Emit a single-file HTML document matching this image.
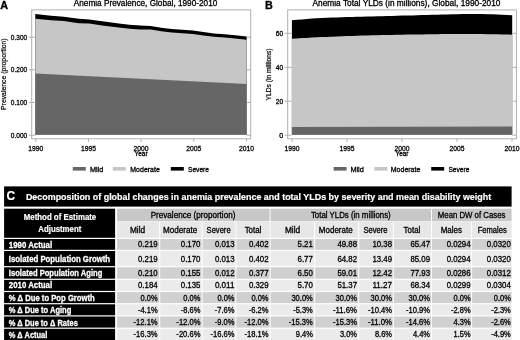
<!DOCTYPE html>
<html lang="en"><head><meta charset="utf-8"><title>Anemia figure</title>
<style>
html,body{margin:0;padding:0;background:#fff;}
body{width:520px;height:340px;overflow:hidden;}
svg{display:block;font-family:"Liberation Sans", Arial, sans-serif;}
text{white-space:pre;}
</style></head><body>
<svg width="520" height="340" viewBox="0 0 520 340">
<rect x="0" y="0" width="520" height="340" fill="#ffffff"/>
<rect x="31.7" y="9.9" width="219.0" height="128.9" fill="#fff" stroke="#b0b0b0" stroke-width="1"/>
<path d="M35.3,13.9 L51.2,15.8 L63.8,16.7 L78.7,18.8 L89.2,19.6 L104.0,21.6 L118.9,23.5 L129.4,24.7 L140.0,25.6 L150.6,26.0 L161.2,27.7 L171.7,29.0 L192.9,30.6 L203.5,31.9 L214.0,33.6 L224.6,34.2 L235.2,35.3 L246.7,36.4 L246.7,134.7 L35.3,134.7 Z" fill="#000"/>
<path d="M35.3,18.8 L51.2,20.2 L63.8,21.1 L78.7,23.2 L89.2,23.6 L104.0,25.8 L118.9,27.4 L129.4,28.8 L140.0,29.6 L150.6,29.6 L161.2,31.2 L171.7,32.4 L192.9,33.9 L203.5,35.4 L214.0,36.8 L224.6,37.5 L235.2,38.5 L246.7,39.8 L246.7,134.7 L35.3,134.7 Z" fill="#c6c6c6"/>
<path d="M35.3,73.5 L246.7,84.1 L246.7,134.7 L35.3,134.7 Z" fill="#666666"/>
<line x1="28.7" y1="135.2" x2="35.5" y2="135.2" stroke="#b0b0b0" stroke-width="1"/>
<line x1="246.7" y1="135.2" x2="250.7" y2="135.2" stroke="#b0b0b0" stroke-width="1"/>
<text x="27.2" y="137.79999999999998" font-size="7.2" text-anchor="end" fill="#000" textLength="16.4" lengthAdjust="spacingAndGlyphs" stroke="#000" stroke-width="0.3">0.000</text>
<line x1="28.7" y1="102.5" x2="35.5" y2="102.5" stroke="#b0b0b0" stroke-width="1"/>
<line x1="246.7" y1="102.5" x2="250.7" y2="102.5" stroke="#b0b0b0" stroke-width="1"/>
<text x="27.2" y="105.1" font-size="7.2" text-anchor="end" fill="#000" textLength="16.4" lengthAdjust="spacingAndGlyphs" stroke="#000" stroke-width="0.3">0.100</text>
<line x1="28.7" y1="69.8" x2="35.5" y2="69.8" stroke="#b0b0b0" stroke-width="1"/>
<line x1="246.7" y1="69.8" x2="250.7" y2="69.8" stroke="#b0b0b0" stroke-width="1"/>
<text x="27.2" y="72.39999999999999" font-size="7.2" text-anchor="end" fill="#000" textLength="16.4" lengthAdjust="spacingAndGlyphs" stroke="#000" stroke-width="0.3">0.200</text>
<line x1="28.7" y1="37.2" x2="35.5" y2="37.2" stroke="#b0b0b0" stroke-width="1"/>
<line x1="246.7" y1="37.2" x2="250.7" y2="37.2" stroke="#b0b0b0" stroke-width="1"/>
<text x="27.2" y="39.800000000000004" font-size="7.2" text-anchor="end" fill="#000" textLength="16.4" lengthAdjust="spacingAndGlyphs" stroke="#000" stroke-width="0.3">0.300</text>
<line x1="35.8" y1="138.8" x2="35.8" y2="141.8" stroke="#b0b0b0" stroke-width="1"/>
<text x="35.8" y="150.5" font-size="7.4" text-anchor="middle" fill="#000" textLength="15" lengthAdjust="spacingAndGlyphs" stroke="#000" stroke-width="0.3">1990</text>
<line x1="88.5" y1="138.8" x2="88.5" y2="141.8" stroke="#b0b0b0" stroke-width="1"/>
<text x="88.5" y="150.5" font-size="7.4" text-anchor="middle" fill="#000" textLength="15" lengthAdjust="spacingAndGlyphs" stroke="#000" stroke-width="0.3">1995</text>
<line x1="141.1" y1="138.8" x2="141.1" y2="141.8" stroke="#b0b0b0" stroke-width="1"/>
<text x="141.1" y="150.5" font-size="7.4" text-anchor="middle" fill="#000" textLength="15" lengthAdjust="spacingAndGlyphs" stroke="#000" stroke-width="0.3">2000</text>
<line x1="193.8" y1="138.8" x2="193.8" y2="141.8" stroke="#b0b0b0" stroke-width="1"/>
<text x="193.8" y="150.5" font-size="7.4" text-anchor="middle" fill="#000" textLength="15" lengthAdjust="spacingAndGlyphs" stroke="#000" stroke-width="0.3">2005</text>
<line x1="246.5" y1="138.8" x2="246.5" y2="141.8" stroke="#b0b0b0" stroke-width="1"/>
<text x="246.5" y="150.5" font-size="7.4" text-anchor="middle" fill="#000" textLength="15" lengthAdjust="spacingAndGlyphs" stroke="#000" stroke-width="0.3">2010</text>
<text x="141.1" y="156.2" font-size="7" text-anchor="middle" fill="#000" textLength="13" lengthAdjust="spacingAndGlyphs" stroke="#000" stroke-width="0.3">Year</text>
<text transform="translate(5.7,74.2) rotate(-90)" font-size="7" text-anchor="middle" fill="#000" stroke="#000" stroke-width="0.2" textLength="71.5" lengthAdjust="spacingAndGlyphs">Prevalence (proportion)</text>
<text x="73.8" y="6.3" font-size="8.2" fill="#000" textLength="143.5" lengthAdjust="spacingAndGlyphs" stroke="#000" stroke-width="0.3">Anemia Prevalence, Global, 1990-2010</text>
<text x="0.2" y="8.9" font-size="10.8" font-weight="bold" fill="#000" stroke="#000" stroke-width="0.3">A</text>
<rect x="72.80" y="167.00" width="13.00" height="3.60" fill="#666666"/>
<text x="89.9" y="171.5" font-size="7.3" fill="#000" textLength="13.4" lengthAdjust="spacingAndGlyphs" stroke="#000" stroke-width="0.3">Mild</text>
<rect x="112.80" y="167.00" width="13.00" height="3.60" fill="#c6c6c6"/>
<text x="130.3" y="171.5" font-size="7.3" fill="#000" textLength="29.5" lengthAdjust="spacingAndGlyphs" stroke="#000" stroke-width="0.3">Moderate</text>
<rect x="170.80" y="167.00" width="13.00" height="3.60" fill="#000"/>
<text x="188" y="171.5" font-size="7.3" fill="#000" textLength="21" lengthAdjust="spacingAndGlyphs" stroke="#000" stroke-width="0.3">Severe</text>
<rect x="287.7" y="9.9" width="228.7" height="128.9" fill="#fff" stroke="#b0b0b0" stroke-width="1"/>
<path d="M291.9,20.3 L296.9,19.8 L301.9,19.4 L306.9,19.0 L311.9,18.6 L316.9,18.3 L321.9,18.1 L326.9,17.8 L332.0,17.6 L337.0,17.4 L342.0,17.3 L347.0,17.1 L352.0,17.0 L357.0,16.8 L362.0,16.7 L367.0,16.5 L372.0,16.4 L377.0,16.3 L382.0,16.2 L387.0,16.0 L392.0,15.9 L397.0,15.8 L402.1,15.6 L407.1,15.5 L412.1,15.4 L417.1,15.2 L422.1,15.1 L427.1,14.9 L432.1,14.8 L437.1,14.7 L442.1,14.5 L447.1,14.4 L452.1,14.3 L457.1,14.2 L462.1,14.1 L467.1,14.1 L472.1,14.1 L477.2,14.1 L482.2,14.1 L487.2,14.2 L492.2,14.3 L497.2,14.5 L502.2,14.7 L507.2,15.0 L512.2,15.3 L512.2,134.7 L291.9,134.7 Z" fill="#000"/>
<path d="M291.9,38.8 L296.9,38.5 L301.9,38.1 L306.9,37.9 L311.9,37.6 L316.9,37.3 L321.9,37.1 L326.9,36.9 L332.0,36.7 L337.0,36.5 L342.0,36.3 L347.0,36.1 L352.0,35.9 L357.0,35.8 L362.0,35.6 L367.0,35.5 L372.0,35.3 L377.0,35.2 L382.0,35.1 L387.0,35.0 L392.0,34.9 L397.0,34.8 L402.1,34.7 L407.1,34.6 L412.1,34.5 L417.1,34.4 L422.1,34.4 L427.1,34.3 L432.1,34.2 L437.1,34.2 L442.1,34.1 L447.1,34.1 L452.1,34.1 L457.1,34.1 L462.1,34.1 L467.1,34.1 L472.1,34.1 L477.2,34.1 L482.2,34.1 L487.2,34.2 L492.2,34.2 L497.2,34.3 L502.2,34.4 L507.2,34.5 L512.2,34.7 L512.2,134.7 L291.9,134.7 Z" fill="#c6c6c6"/>
<path d="M291.9,126.9 L512.2,126.6 L512.2,134.7 L291.9,134.7 Z" fill="#666666"/>
<line x1="284.7" y1="135.2" x2="291.5" y2="135.2" stroke="#b0b0b0" stroke-width="1"/>
<line x1="512.4" y1="135.2" x2="516.4" y2="135.2" stroke="#b0b0b0" stroke-width="1"/>
<text x="283.2" y="137.79999999999998" font-size="7.2" text-anchor="end" fill="#000" stroke="#000" stroke-width="0.3">0</text>
<line x1="284.7" y1="101.2" x2="291.5" y2="101.2" stroke="#b0b0b0" stroke-width="1"/>
<line x1="512.4" y1="101.2" x2="516.4" y2="101.2" stroke="#b0b0b0" stroke-width="1"/>
<text x="283.2" y="103.8" font-size="7.2" text-anchor="end" fill="#000" textLength="7.4" lengthAdjust="spacingAndGlyphs" stroke="#000" stroke-width="0.3">20</text>
<line x1="284.7" y1="67.3" x2="291.5" y2="67.3" stroke="#b0b0b0" stroke-width="1"/>
<line x1="512.4" y1="67.3" x2="516.4" y2="67.3" stroke="#b0b0b0" stroke-width="1"/>
<text x="283.2" y="69.89999999999999" font-size="7.2" text-anchor="end" fill="#000" textLength="7.4" lengthAdjust="spacingAndGlyphs" stroke="#000" stroke-width="0.3">40</text>
<line x1="284.7" y1="33.3" x2="291.5" y2="33.3" stroke="#b0b0b0" stroke-width="1"/>
<line x1="512.4" y1="33.3" x2="516.4" y2="33.3" stroke="#b0b0b0" stroke-width="1"/>
<text x="283.2" y="35.9" font-size="7.2" text-anchor="end" fill="#000" textLength="7.4" lengthAdjust="spacingAndGlyphs" stroke="#000" stroke-width="0.3">60</text>
<line x1="292" y1="138.8" x2="292" y2="141.8" stroke="#b0b0b0" stroke-width="1"/>
<text x="292" y="150.5" font-size="7.4" text-anchor="middle" fill="#000" textLength="15" lengthAdjust="spacingAndGlyphs" stroke="#000" stroke-width="0.3">1990</text>
<line x1="347" y1="138.8" x2="347" y2="141.8" stroke="#b0b0b0" stroke-width="1"/>
<text x="347" y="150.5" font-size="7.4" text-anchor="middle" fill="#000" textLength="15" lengthAdjust="spacingAndGlyphs" stroke="#000" stroke-width="0.3">1995</text>
<line x1="402" y1="138.8" x2="402" y2="141.8" stroke="#b0b0b0" stroke-width="1"/>
<text x="402" y="150.5" font-size="7.4" text-anchor="middle" fill="#000" textLength="15" lengthAdjust="spacingAndGlyphs" stroke="#000" stroke-width="0.3">2000</text>
<line x1="457" y1="138.8" x2="457" y2="141.8" stroke="#b0b0b0" stroke-width="1"/>
<text x="457" y="150.5" font-size="7.4" text-anchor="middle" fill="#000" textLength="15" lengthAdjust="spacingAndGlyphs" stroke="#000" stroke-width="0.3">2005</text>
<line x1="512" y1="138.8" x2="512" y2="141.8" stroke="#b0b0b0" stroke-width="1"/>
<text x="512" y="150.5" font-size="7.4" text-anchor="middle" fill="#000" textLength="15" lengthAdjust="spacingAndGlyphs" stroke="#000" stroke-width="0.3">2010</text>
<text x="402" y="156.2" font-size="7" text-anchor="middle" fill="#000" textLength="13" lengthAdjust="spacingAndGlyphs" stroke="#000" stroke-width="0.3">Year</text>
<text transform="translate(270.9,74.45) rotate(-90)" font-size="7" text-anchor="middle" fill="#000" stroke="#000" stroke-width="0.2" textLength="52.1" lengthAdjust="spacingAndGlyphs">YLDs (in millions)</text>
<text x="312.5" y="6.3" font-size="8.2" fill="#000" textLength="188" lengthAdjust="spacingAndGlyphs" stroke="#000" stroke-width="0.3">Anemia Total YLDs (in millions), Global, 1990-2010</text>
<text x="265.0" y="8.9" font-size="10.8" font-weight="bold" fill="#000" stroke="#000" stroke-width="0.3">B</text>
<rect x="333.60" y="167.00" width="13.00" height="3.60" fill="#666666"/>
<text x="350.4" y="171.5" font-size="7.3" fill="#000" textLength="13.4" lengthAdjust="spacingAndGlyphs" stroke="#000" stroke-width="0.3">Mild</text>
<rect x="374.40" y="167.00" width="13.00" height="3.60" fill="#c6c6c6"/>
<text x="390.8" y="171.5" font-size="7.3" fill="#000" textLength="29.5" lengthAdjust="spacingAndGlyphs" stroke="#000" stroke-width="0.3">Moderate</text>
<rect x="431.20" y="167.00" width="13.00" height="3.60" fill="#000"/>
<text x="448.4" y="171.5" font-size="7.3" fill="#000" textLength="21" lengthAdjust="spacingAndGlyphs" stroke="#000" stroke-width="0.3">Severe</text>
<rect x="4.10" y="186.40" width="507.50" height="20.20" fill="#000"/>
<text x="6.6" y="200.2" font-size="12" font-weight="bold" fill="#fff" stroke="#fff" stroke-width="0.2">C</text>
<text x="25.9" y="200.3" font-size="9.5" font-weight="bold" fill="#fff" textLength="465.3" lengthAdjust="spacingAndGlyphs" stroke="#fff" stroke-width="0.2">Decomposition of global changes in anemia prevalence and total YLDs by severity and mean disability weight</text>
<rect x="4.10" y="208.70" width="111.00" height="29.10" fill="#000"/>
<text x="60" y="220.3" font-size="8.6" text-anchor="middle" font-weight="bold" fill="#fff" textLength="72.5" lengthAdjust="spacingAndGlyphs" stroke="#fff" stroke-width="0.2">Method of Estimate</text>
<text x="59.8" y="232.1" font-size="8.6" text-anchor="middle" font-weight="bold" fill="#fff" textLength="43" lengthAdjust="spacingAndGlyphs" stroke="#fff" stroke-width="0.2">Adjustment</text>
<rect x="117.10" y="208.70" width="152.50" height="12.50" fill="#c8c8c8"/>
<text x="193.05" y="218.1" font-size="8.3" text-anchor="middle" fill="#000" textLength="84.7" lengthAdjust="spacingAndGlyphs" stroke="#000" stroke-width="0.3">Prevalence (proportion)</text>
<rect x="270.60" y="208.70" width="160.40" height="12.50" fill="#c8c8c8"/>
<text x="350.8" y="218.1" font-size="8.3" text-anchor="middle" fill="#000" textLength="79.8" lengthAdjust="spacingAndGlyphs" stroke="#000" stroke-width="0.3">Total YLDs (in millions)</text>
<rect x="432.00" y="208.70" width="79.60" height="12.50" fill="#c8c8c8"/>
<text x="471.6" y="218.1" font-size="8.3" text-anchor="middle" fill="#000" textLength="67.6" lengthAdjust="spacingAndGlyphs" stroke="#000" stroke-width="0.3">Mean DW of Cases</text>
<rect x="117.10" y="221.50" width="42.10" height="16.30" fill="#e7e7e7"/>
<text x="137.55" y="232.8" font-size="8.3" text-anchor="middle" fill="#000" textLength="15.3" lengthAdjust="spacingAndGlyphs" stroke="#000" stroke-width="0.3">Mild</text>
<rect x="160.20" y="221.50" width="41.40" height="16.30" fill="#e7e7e7"/>
<text x="180.05" y="232.8" font-size="8.3" text-anchor="middle" fill="#000" textLength="34.3" lengthAdjust="spacingAndGlyphs" stroke="#000" stroke-width="0.3">Moderate</text>
<rect x="202.60" y="221.50" width="32.80" height="16.30" fill="#e7e7e7"/>
<text x="218.6" y="232.8" font-size="8.3" text-anchor="middle" fill="#000" textLength="24.0" lengthAdjust="spacingAndGlyphs" stroke="#000" stroke-width="0.3">Severe</text>
<rect x="236.40" y="221.50" width="33.20" height="16.30" fill="#e7e7e7"/>
<text x="253.0" y="232.8" font-size="8.3" text-anchor="middle" fill="#000" textLength="16.7" lengthAdjust="spacingAndGlyphs" stroke="#000" stroke-width="0.3">Total</text>
<rect x="270.60" y="221.50" width="43.60" height="16.30" fill="#e7e7e7"/>
<text x="292.55" y="232.8" font-size="8.3" text-anchor="middle" fill="#000" textLength="15.3" lengthAdjust="spacingAndGlyphs" stroke="#000" stroke-width="0.3">Mild</text>
<rect x="315.20" y="221.50" width="43.00" height="16.30" fill="#e7e7e7"/>
<text x="335.75" y="232.8" font-size="8.3" text-anchor="middle" fill="#000" textLength="33.8" lengthAdjust="spacingAndGlyphs" stroke="#000" stroke-width="0.3">Moderate</text>
<rect x="359.20" y="221.50" width="33.60" height="16.30" fill="#e7e7e7"/>
<text x="375.4" y="232.8" font-size="8.3" text-anchor="middle" fill="#000" textLength="24.0" lengthAdjust="spacingAndGlyphs" stroke="#000" stroke-width="0.3">Severe</text>
<rect x="393.80" y="221.50" width="37.20" height="16.30" fill="#e7e7e7"/>
<text x="411.95" y="232.8" font-size="8.3" text-anchor="middle" fill="#000" textLength="16.7" lengthAdjust="spacingAndGlyphs" stroke="#000" stroke-width="0.3">Total</text>
<rect x="432.00" y="221.50" width="39.10" height="16.30" fill="#e7e7e7"/>
<text x="451.35" y="232.8" font-size="8.3" text-anchor="middle" fill="#000" textLength="21.3" lengthAdjust="spacingAndGlyphs" stroke="#000" stroke-width="0.3">Males</text>
<rect x="472.10" y="221.50" width="39.50" height="16.30" fill="#e7e7e7"/>
<text x="492.25" y="232.8" font-size="8.3" text-anchor="middle" fill="#000" textLength="29.1" lengthAdjust="spacingAndGlyphs" stroke="#000" stroke-width="0.3">Females</text>
<rect x="4.10" y="239.00" width="111.00" height="10.80" fill="#000"/>
<text x="8.8" y="248.0" font-size="8.5" font-weight="bold" fill="#fff" textLength="43.3" lengthAdjust="spacingAndGlyphs" stroke="#fff" stroke-width="0.3">1990 Actual</text>
<rect x="117.10" y="239.00" width="42.10" height="10.80" fill="#d0d0d0"/>
<text x="157.6" y="247.2" font-size="8.3" text-anchor="end" fill="#000" textLength="19.61" lengthAdjust="spacingAndGlyphs" stroke="#000" stroke-width="0.3">0.219</text>
<rect x="160.20" y="239.00" width="41.40" height="10.80" fill="#d0d0d0"/>
<text x="200.4" y="247.2" font-size="8.3" text-anchor="end" fill="#000" textLength="19.61" lengthAdjust="spacingAndGlyphs" stroke="#000" stroke-width="0.3">0.170</text>
<rect x="202.60" y="239.00" width="32.80" height="10.80" fill="#d0d0d0"/>
<text x="234.5" y="247.2" font-size="8.3" text-anchor="end" fill="#000" textLength="19.61" lengthAdjust="spacingAndGlyphs" stroke="#000" stroke-width="0.3">0.013</text>
<rect x="236.40" y="239.00" width="33.20" height="10.80" fill="#d0d0d0"/>
<text x="268.5" y="247.2" font-size="8.3" text-anchor="end" fill="#000" textLength="19.61" lengthAdjust="spacingAndGlyphs" stroke="#000" stroke-width="0.3">0.402</text>
<rect x="270.60" y="239.00" width="43.60" height="10.80" fill="#d0d0d0"/>
<text x="312.8" y="247.2" font-size="8.3" text-anchor="end" fill="#000" textLength="15.25" lengthAdjust="spacingAndGlyphs" stroke="#000" stroke-width="0.3">5.21</text>
<rect x="315.20" y="239.00" width="43.00" height="10.80" fill="#d0d0d0"/>
<text x="357.0" y="247.2" font-size="8.3" text-anchor="end" fill="#000" textLength="19.61" lengthAdjust="spacingAndGlyphs" stroke="#000" stroke-width="0.3">49.88</text>
<rect x="359.20" y="239.00" width="33.60" height="10.80" fill="#d0d0d0"/>
<text x="392.0" y="247.2" font-size="8.3" text-anchor="end" fill="#000" textLength="19.61" lengthAdjust="spacingAndGlyphs" stroke="#000" stroke-width="0.3">10.38</text>
<rect x="393.80" y="239.00" width="37.20" height="10.80" fill="#d0d0d0"/>
<text x="430.0" y="247.2" font-size="8.3" text-anchor="end" fill="#000" textLength="19.61" lengthAdjust="spacingAndGlyphs" stroke="#000" stroke-width="0.3">65.47</text>
<rect x="432.00" y="239.00" width="39.10" height="10.80" fill="#d0d0d0"/>
<text x="470.6" y="247.2" font-size="8.3" text-anchor="end" fill="#000" textLength="23.97" lengthAdjust="spacingAndGlyphs" stroke="#000" stroke-width="0.3">0.0294</text>
<rect x="472.10" y="239.00" width="39.50" height="10.80" fill="#d0d0d0"/>
<text x="510.8" y="247.2" font-size="8.3" text-anchor="end" fill="#000" textLength="23.97" lengthAdjust="spacingAndGlyphs" stroke="#000" stroke-width="0.3">0.0320</text>
<rect x="4.10" y="251.00" width="111.00" height="15.10" fill="#000"/>
<text x="8.8" y="261.90000000000003" font-size="8.5" font-weight="bold" fill="#fff" textLength="101.3" lengthAdjust="spacingAndGlyphs" stroke="#fff" stroke-width="0.3">Isolated Population Growth</text>
<rect x="117.10" y="251.00" width="42.10" height="15.10" fill="#ebebeb"/>
<text x="157.6" y="261.70000000000005" font-size="8.3" text-anchor="end" fill="#000" textLength="19.61" lengthAdjust="spacingAndGlyphs" stroke="#000" stroke-width="0.3">0.219</text>
<rect x="160.20" y="251.00" width="41.40" height="15.10" fill="#ebebeb"/>
<text x="200.4" y="261.70000000000005" font-size="8.3" text-anchor="end" fill="#000" textLength="19.61" lengthAdjust="spacingAndGlyphs" stroke="#000" stroke-width="0.3">0.170</text>
<rect x="202.60" y="251.00" width="32.80" height="15.10" fill="#ebebeb"/>
<text x="234.5" y="261.70000000000005" font-size="8.3" text-anchor="end" fill="#000" textLength="19.61" lengthAdjust="spacingAndGlyphs" stroke="#000" stroke-width="0.3">0.013</text>
<rect x="236.40" y="251.00" width="33.20" height="15.10" fill="#ebebeb"/>
<text x="268.5" y="261.70000000000005" font-size="8.3" text-anchor="end" fill="#000" textLength="19.61" lengthAdjust="spacingAndGlyphs" stroke="#000" stroke-width="0.3">0.402</text>
<rect x="270.60" y="251.00" width="43.60" height="15.10" fill="#ebebeb"/>
<text x="312.8" y="261.70000000000005" font-size="8.3" text-anchor="end" fill="#000" textLength="15.25" lengthAdjust="spacingAndGlyphs" stroke="#000" stroke-width="0.3">6.77</text>
<rect x="315.20" y="251.00" width="43.00" height="15.10" fill="#ebebeb"/>
<text x="357.0" y="261.70000000000005" font-size="8.3" text-anchor="end" fill="#000" textLength="19.61" lengthAdjust="spacingAndGlyphs" stroke="#000" stroke-width="0.3">64.82</text>
<rect x="359.20" y="251.00" width="33.60" height="15.10" fill="#ebebeb"/>
<text x="392.0" y="261.70000000000005" font-size="8.3" text-anchor="end" fill="#000" textLength="19.61" lengthAdjust="spacingAndGlyphs" stroke="#000" stroke-width="0.3">13.49</text>
<rect x="393.80" y="251.00" width="37.20" height="15.10" fill="#ebebeb"/>
<text x="430.0" y="261.70000000000005" font-size="8.3" text-anchor="end" fill="#000" textLength="19.61" lengthAdjust="spacingAndGlyphs" stroke="#000" stroke-width="0.3">85.09</text>
<rect x="432.00" y="251.00" width="39.10" height="15.10" fill="#ebebeb"/>
<text x="470.6" y="261.70000000000005" font-size="8.3" text-anchor="end" fill="#000" textLength="23.97" lengthAdjust="spacingAndGlyphs" stroke="#000" stroke-width="0.3">0.0294</text>
<rect x="472.10" y="251.00" width="39.50" height="15.10" fill="#ebebeb"/>
<text x="510.8" y="261.70000000000005" font-size="8.3" text-anchor="end" fill="#000" textLength="23.97" lengthAdjust="spacingAndGlyphs" stroke="#000" stroke-width="0.3">0.0320</text>
<rect x="4.10" y="267.30" width="111.00" height="11.40" fill="#000"/>
<text x="8.8" y="276.1" font-size="8.5" font-weight="bold" fill="#fff" textLength="93.5" lengthAdjust="spacingAndGlyphs" stroke="#fff" stroke-width="0.3">Isolated Population Aging</text>
<rect x="117.10" y="267.30" width="42.10" height="11.40" fill="#d0d0d0"/>
<text x="157.6" y="275.90000000000003" font-size="8.3" text-anchor="end" fill="#000" textLength="19.61" lengthAdjust="spacingAndGlyphs" stroke="#000" stroke-width="0.3">0.210</text>
<rect x="160.20" y="267.30" width="41.40" height="11.40" fill="#d0d0d0"/>
<text x="200.4" y="275.90000000000003" font-size="8.3" text-anchor="end" fill="#000" textLength="19.61" lengthAdjust="spacingAndGlyphs" stroke="#000" stroke-width="0.3">0.155</text>
<rect x="202.60" y="267.30" width="32.80" height="11.40" fill="#d0d0d0"/>
<text x="234.5" y="275.90000000000003" font-size="8.3" text-anchor="end" fill="#000" textLength="19.61" lengthAdjust="spacingAndGlyphs" stroke="#000" stroke-width="0.3">0.012</text>
<rect x="236.40" y="267.30" width="33.20" height="11.40" fill="#d0d0d0"/>
<text x="268.5" y="275.90000000000003" font-size="8.3" text-anchor="end" fill="#000" textLength="19.61" lengthAdjust="spacingAndGlyphs" stroke="#000" stroke-width="0.3">0.377</text>
<rect x="270.60" y="267.30" width="43.60" height="11.40" fill="#d0d0d0"/>
<text x="312.8" y="275.90000000000003" font-size="8.3" text-anchor="end" fill="#000" textLength="15.25" lengthAdjust="spacingAndGlyphs" stroke="#000" stroke-width="0.3">6.50</text>
<rect x="315.20" y="267.30" width="43.00" height="11.40" fill="#d0d0d0"/>
<text x="357.0" y="275.90000000000003" font-size="8.3" text-anchor="end" fill="#000" textLength="19.61" lengthAdjust="spacingAndGlyphs" stroke="#000" stroke-width="0.3">59.01</text>
<rect x="359.20" y="267.30" width="33.60" height="11.40" fill="#d0d0d0"/>
<text x="392.0" y="275.90000000000003" font-size="8.3" text-anchor="end" fill="#000" textLength="19.61" lengthAdjust="spacingAndGlyphs" stroke="#000" stroke-width="0.3">12.42</text>
<rect x="393.80" y="267.30" width="37.20" height="11.40" fill="#d0d0d0"/>
<text x="430.0" y="275.90000000000003" font-size="8.3" text-anchor="end" fill="#000" textLength="19.61" lengthAdjust="spacingAndGlyphs" stroke="#000" stroke-width="0.3">77.93</text>
<rect x="432.00" y="267.30" width="39.10" height="11.40" fill="#d0d0d0"/>
<text x="470.6" y="275.90000000000003" font-size="8.3" text-anchor="end" fill="#000" textLength="23.97" lengthAdjust="spacingAndGlyphs" stroke="#000" stroke-width="0.3">0.0286</text>
<rect x="472.10" y="267.30" width="39.50" height="11.40" fill="#d0d0d0"/>
<text x="510.8" y="275.90000000000003" font-size="8.3" text-anchor="end" fill="#000" textLength="23.97" lengthAdjust="spacingAndGlyphs" stroke="#000" stroke-width="0.3">0.0312</text>
<rect x="4.10" y="279.90" width="111.00" height="11.00" fill="#000"/>
<text x="8.8" y="288.40000000000003" font-size="8.5" font-weight="bold" fill="#fff" textLength="43.3" lengthAdjust="spacingAndGlyphs" stroke="#fff" stroke-width="0.3">2010 Actual</text>
<rect x="117.10" y="279.90" width="42.10" height="11.00" fill="#ebebeb"/>
<text x="157.6" y="287.70000000000005" font-size="8.3" text-anchor="end" fill="#000" textLength="19.61" lengthAdjust="spacingAndGlyphs" stroke="#000" stroke-width="0.3">0.184</text>
<rect x="160.20" y="279.90" width="41.40" height="11.00" fill="#ebebeb"/>
<text x="200.4" y="287.70000000000005" font-size="8.3" text-anchor="end" fill="#000" textLength="19.61" lengthAdjust="spacingAndGlyphs" stroke="#000" stroke-width="0.3">0.135</text>
<rect x="202.60" y="279.90" width="32.80" height="11.00" fill="#ebebeb"/>
<text x="234.5" y="287.70000000000005" font-size="8.3" text-anchor="end" fill="#000" textLength="19.61" lengthAdjust="spacingAndGlyphs" stroke="#000" stroke-width="0.3">0.011</text>
<rect x="236.40" y="279.90" width="33.20" height="11.00" fill="#ebebeb"/>
<text x="268.5" y="287.70000000000005" font-size="8.3" text-anchor="end" fill="#000" textLength="19.61" lengthAdjust="spacingAndGlyphs" stroke="#000" stroke-width="0.3">0.329</text>
<rect x="270.60" y="279.90" width="43.60" height="11.00" fill="#ebebeb"/>
<text x="312.8" y="287.70000000000005" font-size="8.3" text-anchor="end" fill="#000" textLength="15.25" lengthAdjust="spacingAndGlyphs" stroke="#000" stroke-width="0.3">5.70</text>
<rect x="315.20" y="279.90" width="43.00" height="11.00" fill="#ebebeb"/>
<text x="357.0" y="287.70000000000005" font-size="8.3" text-anchor="end" fill="#000" textLength="19.61" lengthAdjust="spacingAndGlyphs" stroke="#000" stroke-width="0.3">51.37</text>
<rect x="359.20" y="279.90" width="33.60" height="11.00" fill="#ebebeb"/>
<text x="392.0" y="287.70000000000005" font-size="8.3" text-anchor="end" fill="#000" textLength="19.61" lengthAdjust="spacingAndGlyphs" stroke="#000" stroke-width="0.3">11.27</text>
<rect x="393.80" y="279.90" width="37.20" height="11.00" fill="#ebebeb"/>
<text x="430.0" y="287.70000000000005" font-size="8.3" text-anchor="end" fill="#000" textLength="19.61" lengthAdjust="spacingAndGlyphs" stroke="#000" stroke-width="0.3">68.34</text>
<rect x="432.00" y="279.90" width="39.10" height="11.00" fill="#ebebeb"/>
<text x="470.6" y="287.70000000000005" font-size="8.3" text-anchor="end" fill="#000" textLength="23.97" lengthAdjust="spacingAndGlyphs" stroke="#000" stroke-width="0.3">0.0299</text>
<rect x="472.10" y="279.90" width="39.50" height="11.00" fill="#ebebeb"/>
<text x="510.8" y="287.70000000000005" font-size="8.3" text-anchor="end" fill="#000" textLength="23.97" lengthAdjust="spacingAndGlyphs" stroke="#000" stroke-width="0.3">0.0304</text>
<rect x="4.10" y="292.10" width="111.00" height="11.00" fill="#000"/>
<text x="8.8" y="301.0" font-size="8.5" font-weight="bold" fill="#fff" textLength="86" lengthAdjust="spacingAndGlyphs" stroke="#fff" stroke-width="0.3">% Δ Due to Pop Growth</text>
<rect x="117.10" y="292.10" width="42.10" height="11.00" fill="#d0d0d0"/>
<text x="157.6" y="300.8" font-size="8.3" text-anchor="end" fill="#000" textLength="17.04" lengthAdjust="spacingAndGlyphs" stroke="#000" stroke-width="0.3">0.0%</text>
<rect x="160.20" y="292.10" width="41.40" height="11.00" fill="#d0d0d0"/>
<text x="200.4" y="300.8" font-size="8.3" text-anchor="end" fill="#000" textLength="17.04" lengthAdjust="spacingAndGlyphs" stroke="#000" stroke-width="0.3">0.0%</text>
<rect x="202.60" y="292.10" width="32.80" height="11.00" fill="#d0d0d0"/>
<text x="234.5" y="300.8" font-size="8.3" text-anchor="end" fill="#000" textLength="17.04" lengthAdjust="spacingAndGlyphs" stroke="#000" stroke-width="0.3">0.0%</text>
<rect x="236.40" y="292.10" width="33.20" height="11.00" fill="#d0d0d0"/>
<text x="268.5" y="300.8" font-size="8.3" text-anchor="end" fill="#000" textLength="17.04" lengthAdjust="spacingAndGlyphs" stroke="#000" stroke-width="0.3">0.0%</text>
<rect x="270.60" y="292.10" width="43.60" height="11.00" fill="#d0d0d0"/>
<text x="312.8" y="300.8" font-size="8.3" text-anchor="end" fill="#000" textLength="21.4" lengthAdjust="spacingAndGlyphs" stroke="#000" stroke-width="0.3">30.0%</text>
<rect x="315.20" y="292.10" width="43.00" height="11.00" fill="#d0d0d0"/>
<text x="357.0" y="300.8" font-size="8.3" text-anchor="end" fill="#000" textLength="21.4" lengthAdjust="spacingAndGlyphs" stroke="#000" stroke-width="0.3">30.0%</text>
<rect x="359.20" y="292.10" width="33.60" height="11.00" fill="#d0d0d0"/>
<text x="392.0" y="300.8" font-size="8.3" text-anchor="end" fill="#000" textLength="21.4" lengthAdjust="spacingAndGlyphs" stroke="#000" stroke-width="0.3">30.0%</text>
<rect x="393.80" y="292.10" width="37.20" height="11.00" fill="#d0d0d0"/>
<text x="430.0" y="300.8" font-size="8.3" text-anchor="end" fill="#000" textLength="21.4" lengthAdjust="spacingAndGlyphs" stroke="#000" stroke-width="0.3">30.0%</text>
<rect x="432.00" y="292.10" width="39.10" height="11.00" fill="#d0d0d0"/>
<text x="470.6" y="300.8" font-size="8.3" text-anchor="end" fill="#000" textLength="17.04" lengthAdjust="spacingAndGlyphs" stroke="#000" stroke-width="0.3">0.0%</text>
<rect x="472.10" y="292.10" width="39.50" height="11.00" fill="#d0d0d0"/>
<text x="510.8" y="300.8" font-size="8.3" text-anchor="end" fill="#000" textLength="17.04" lengthAdjust="spacingAndGlyphs" stroke="#000" stroke-width="0.3">0.0%</text>
<rect x="4.10" y="304.30" width="111.00" height="11.00" fill="#000"/>
<text x="8.8" y="313.4" font-size="8.5" font-weight="bold" fill="#fff" textLength="62.5" lengthAdjust="spacingAndGlyphs" stroke="#fff" stroke-width="0.3">% Δ Due to Aging</text>
<rect x="117.10" y="304.30" width="42.10" height="11.00" fill="#ebebeb"/>
<text x="157.6" y="313.1" font-size="8.3" text-anchor="end" fill="#000" textLength="19.67" lengthAdjust="spacingAndGlyphs" stroke="#000" stroke-width="0.3">-4.1%</text>
<rect x="160.20" y="304.30" width="41.40" height="11.00" fill="#ebebeb"/>
<text x="200.4" y="313.1" font-size="8.3" text-anchor="end" fill="#000" textLength="19.67" lengthAdjust="spacingAndGlyphs" stroke="#000" stroke-width="0.3">-8.6%</text>
<rect x="202.60" y="304.30" width="32.80" height="11.00" fill="#ebebeb"/>
<text x="234.5" y="313.1" font-size="8.3" text-anchor="end" fill="#000" textLength="19.67" lengthAdjust="spacingAndGlyphs" stroke="#000" stroke-width="0.3">-7.6%</text>
<rect x="236.40" y="304.30" width="33.20" height="11.00" fill="#ebebeb"/>
<text x="268.5" y="313.1" font-size="8.3" text-anchor="end" fill="#000" textLength="19.67" lengthAdjust="spacingAndGlyphs" stroke="#000" stroke-width="0.3">-6.2%</text>
<rect x="270.60" y="304.30" width="43.60" height="11.00" fill="#ebebeb"/>
<text x="312.8" y="313.1" font-size="8.3" text-anchor="end" fill="#000" textLength="19.67" lengthAdjust="spacingAndGlyphs" stroke="#000" stroke-width="0.3">-5.3%</text>
<rect x="315.20" y="304.30" width="43.00" height="11.00" fill="#ebebeb"/>
<text x="357.0" y="313.1" font-size="8.3" text-anchor="end" fill="#000" textLength="24.03" lengthAdjust="spacingAndGlyphs" stroke="#000" stroke-width="0.3">-11.6%</text>
<rect x="359.20" y="304.30" width="33.60" height="11.00" fill="#ebebeb"/>
<text x="392.0" y="313.1" font-size="8.3" text-anchor="end" fill="#000" textLength="24.03" lengthAdjust="spacingAndGlyphs" stroke="#000" stroke-width="0.3">-10.4%</text>
<rect x="393.80" y="304.30" width="37.20" height="11.00" fill="#ebebeb"/>
<text x="430.0" y="313.1" font-size="8.3" text-anchor="end" fill="#000" textLength="24.03" lengthAdjust="spacingAndGlyphs" stroke="#000" stroke-width="0.3">-10.9%</text>
<rect x="432.00" y="304.30" width="39.10" height="11.00" fill="#ebebeb"/>
<text x="470.6" y="313.1" font-size="8.3" text-anchor="end" fill="#000" textLength="19.67" lengthAdjust="spacingAndGlyphs" stroke="#000" stroke-width="0.3">-2.8%</text>
<rect x="472.10" y="304.30" width="39.50" height="11.00" fill="#ebebeb"/>
<text x="510.8" y="313.1" font-size="8.3" text-anchor="end" fill="#000" textLength="19.67" lengthAdjust="spacingAndGlyphs" stroke="#000" stroke-width="0.3">-2.3%</text>
<rect x="4.10" y="316.50" width="111.00" height="11.10" fill="#000"/>
<text x="8.8" y="325.5" font-size="8.5" font-weight="bold" fill="#fff" textLength="69" lengthAdjust="spacingAndGlyphs" stroke="#fff" stroke-width="0.3">% Δ Due to Δ Rates</text>
<rect x="117.10" y="316.50" width="42.10" height="11.10" fill="#d0d0d0"/>
<text x="157.6" y="325.1" font-size="8.3" text-anchor="end" fill="#000" textLength="24.03" lengthAdjust="spacingAndGlyphs" stroke="#000" stroke-width="0.3">-12.1%</text>
<rect x="160.20" y="316.50" width="41.40" height="11.10" fill="#d0d0d0"/>
<text x="200.4" y="325.1" font-size="8.3" text-anchor="end" fill="#000" textLength="24.03" lengthAdjust="spacingAndGlyphs" stroke="#000" stroke-width="0.3">-12.0%</text>
<rect x="202.60" y="316.50" width="32.80" height="11.10" fill="#d0d0d0"/>
<text x="234.5" y="325.1" font-size="8.3" text-anchor="end" fill="#000" textLength="19.67" lengthAdjust="spacingAndGlyphs" stroke="#000" stroke-width="0.3">-9.0%</text>
<rect x="236.40" y="316.50" width="33.20" height="11.10" fill="#d0d0d0"/>
<text x="268.5" y="325.1" font-size="8.3" text-anchor="end" fill="#000" textLength="24.03" lengthAdjust="spacingAndGlyphs" stroke="#000" stroke-width="0.3">-12.0%</text>
<rect x="270.60" y="316.50" width="43.60" height="11.10" fill="#d0d0d0"/>
<text x="312.8" y="325.1" font-size="8.3" text-anchor="end" fill="#000" textLength="24.03" lengthAdjust="spacingAndGlyphs" stroke="#000" stroke-width="0.3">-15.3%</text>
<rect x="315.20" y="316.50" width="43.00" height="11.10" fill="#d0d0d0"/>
<text x="357.0" y="325.1" font-size="8.3" text-anchor="end" fill="#000" textLength="24.03" lengthAdjust="spacingAndGlyphs" stroke="#000" stroke-width="0.3">-15.3%</text>
<rect x="359.20" y="316.50" width="33.60" height="11.10" fill="#d0d0d0"/>
<text x="392.0" y="325.1" font-size="8.3" text-anchor="end" fill="#000" textLength="24.03" lengthAdjust="spacingAndGlyphs" stroke="#000" stroke-width="0.3">-11.0%</text>
<rect x="393.80" y="316.50" width="37.20" height="11.10" fill="#d0d0d0"/>
<text x="430.0" y="325.1" font-size="8.3" text-anchor="end" fill="#000" textLength="24.03" lengthAdjust="spacingAndGlyphs" stroke="#000" stroke-width="0.3">-14.6%</text>
<rect x="432.00" y="316.50" width="39.10" height="11.10" fill="#d0d0d0"/>
<text x="470.6" y="325.1" font-size="8.3" text-anchor="end" fill="#000" textLength="17.04" lengthAdjust="spacingAndGlyphs" stroke="#000" stroke-width="0.3">4.3%</text>
<rect x="472.10" y="316.50" width="39.50" height="11.10" fill="#d0d0d0"/>
<text x="510.8" y="325.1" font-size="8.3" text-anchor="end" fill="#000" textLength="19.67" lengthAdjust="spacingAndGlyphs" stroke="#000" stroke-width="0.3">-2.6%</text>
<rect x="4.10" y="328.80" width="111.00" height="11.80" fill="#000"/>
<text x="8.8" y="337.59999999999997" font-size="8.5" font-weight="bold" fill="#fff" textLength="38.5" lengthAdjust="spacingAndGlyphs" stroke="#fff" stroke-width="0.3">% Δ Actual</text>
<rect x="117.10" y="328.80" width="42.10" height="11.80" fill="#ebebeb"/>
<text x="157.6" y="336.8" font-size="8.3" text-anchor="end" fill="#000" textLength="24.03" lengthAdjust="spacingAndGlyphs" stroke="#000" stroke-width="0.3">-16.3%</text>
<rect x="160.20" y="328.80" width="41.40" height="11.80" fill="#ebebeb"/>
<text x="200.4" y="336.8" font-size="8.3" text-anchor="end" fill="#000" textLength="24.03" lengthAdjust="spacingAndGlyphs" stroke="#000" stroke-width="0.3">-20.6%</text>
<rect x="202.60" y="328.80" width="32.80" height="11.80" fill="#ebebeb"/>
<text x="234.5" y="336.8" font-size="8.3" text-anchor="end" fill="#000" textLength="24.03" lengthAdjust="spacingAndGlyphs" stroke="#000" stroke-width="0.3">-16.6%</text>
<rect x="236.40" y="328.80" width="33.20" height="11.80" fill="#ebebeb"/>
<text x="268.5" y="336.8" font-size="8.3" text-anchor="end" fill="#000" textLength="24.03" lengthAdjust="spacingAndGlyphs" stroke="#000" stroke-width="0.3">-18.1%</text>
<rect x="270.60" y="328.80" width="43.60" height="11.80" fill="#ebebeb"/>
<text x="312.8" y="336.8" font-size="8.3" text-anchor="end" fill="#000" textLength="17.04" lengthAdjust="spacingAndGlyphs" stroke="#000" stroke-width="0.3">9.4%</text>
<rect x="315.20" y="328.80" width="43.00" height="11.80" fill="#ebebeb"/>
<text x="357.0" y="336.8" font-size="8.3" text-anchor="end" fill="#000" textLength="17.04" lengthAdjust="spacingAndGlyphs" stroke="#000" stroke-width="0.3">3.0%</text>
<rect x="359.20" y="328.80" width="33.60" height="11.80" fill="#ebebeb"/>
<text x="392.0" y="336.8" font-size="8.3" text-anchor="end" fill="#000" textLength="17.04" lengthAdjust="spacingAndGlyphs" stroke="#000" stroke-width="0.3">8.6%</text>
<rect x="393.80" y="328.80" width="37.20" height="11.80" fill="#ebebeb"/>
<text x="430.0" y="336.8" font-size="8.3" text-anchor="end" fill="#000" textLength="17.04" lengthAdjust="spacingAndGlyphs" stroke="#000" stroke-width="0.3">4.4%</text>
<rect x="432.00" y="328.80" width="39.10" height="11.80" fill="#ebebeb"/>
<text x="470.6" y="336.8" font-size="8.3" text-anchor="end" fill="#000" textLength="17.04" lengthAdjust="spacingAndGlyphs" stroke="#000" stroke-width="0.3">1.5%</text>
<rect x="472.10" y="328.80" width="39.50" height="11.80" fill="#ebebeb"/>
<text x="510.8" y="336.8" font-size="8.3" text-anchor="end" fill="#000" textLength="19.67" lengthAdjust="spacingAndGlyphs" stroke="#000" stroke-width="0.3">-4.9%</text>
</svg>
</body></html>
